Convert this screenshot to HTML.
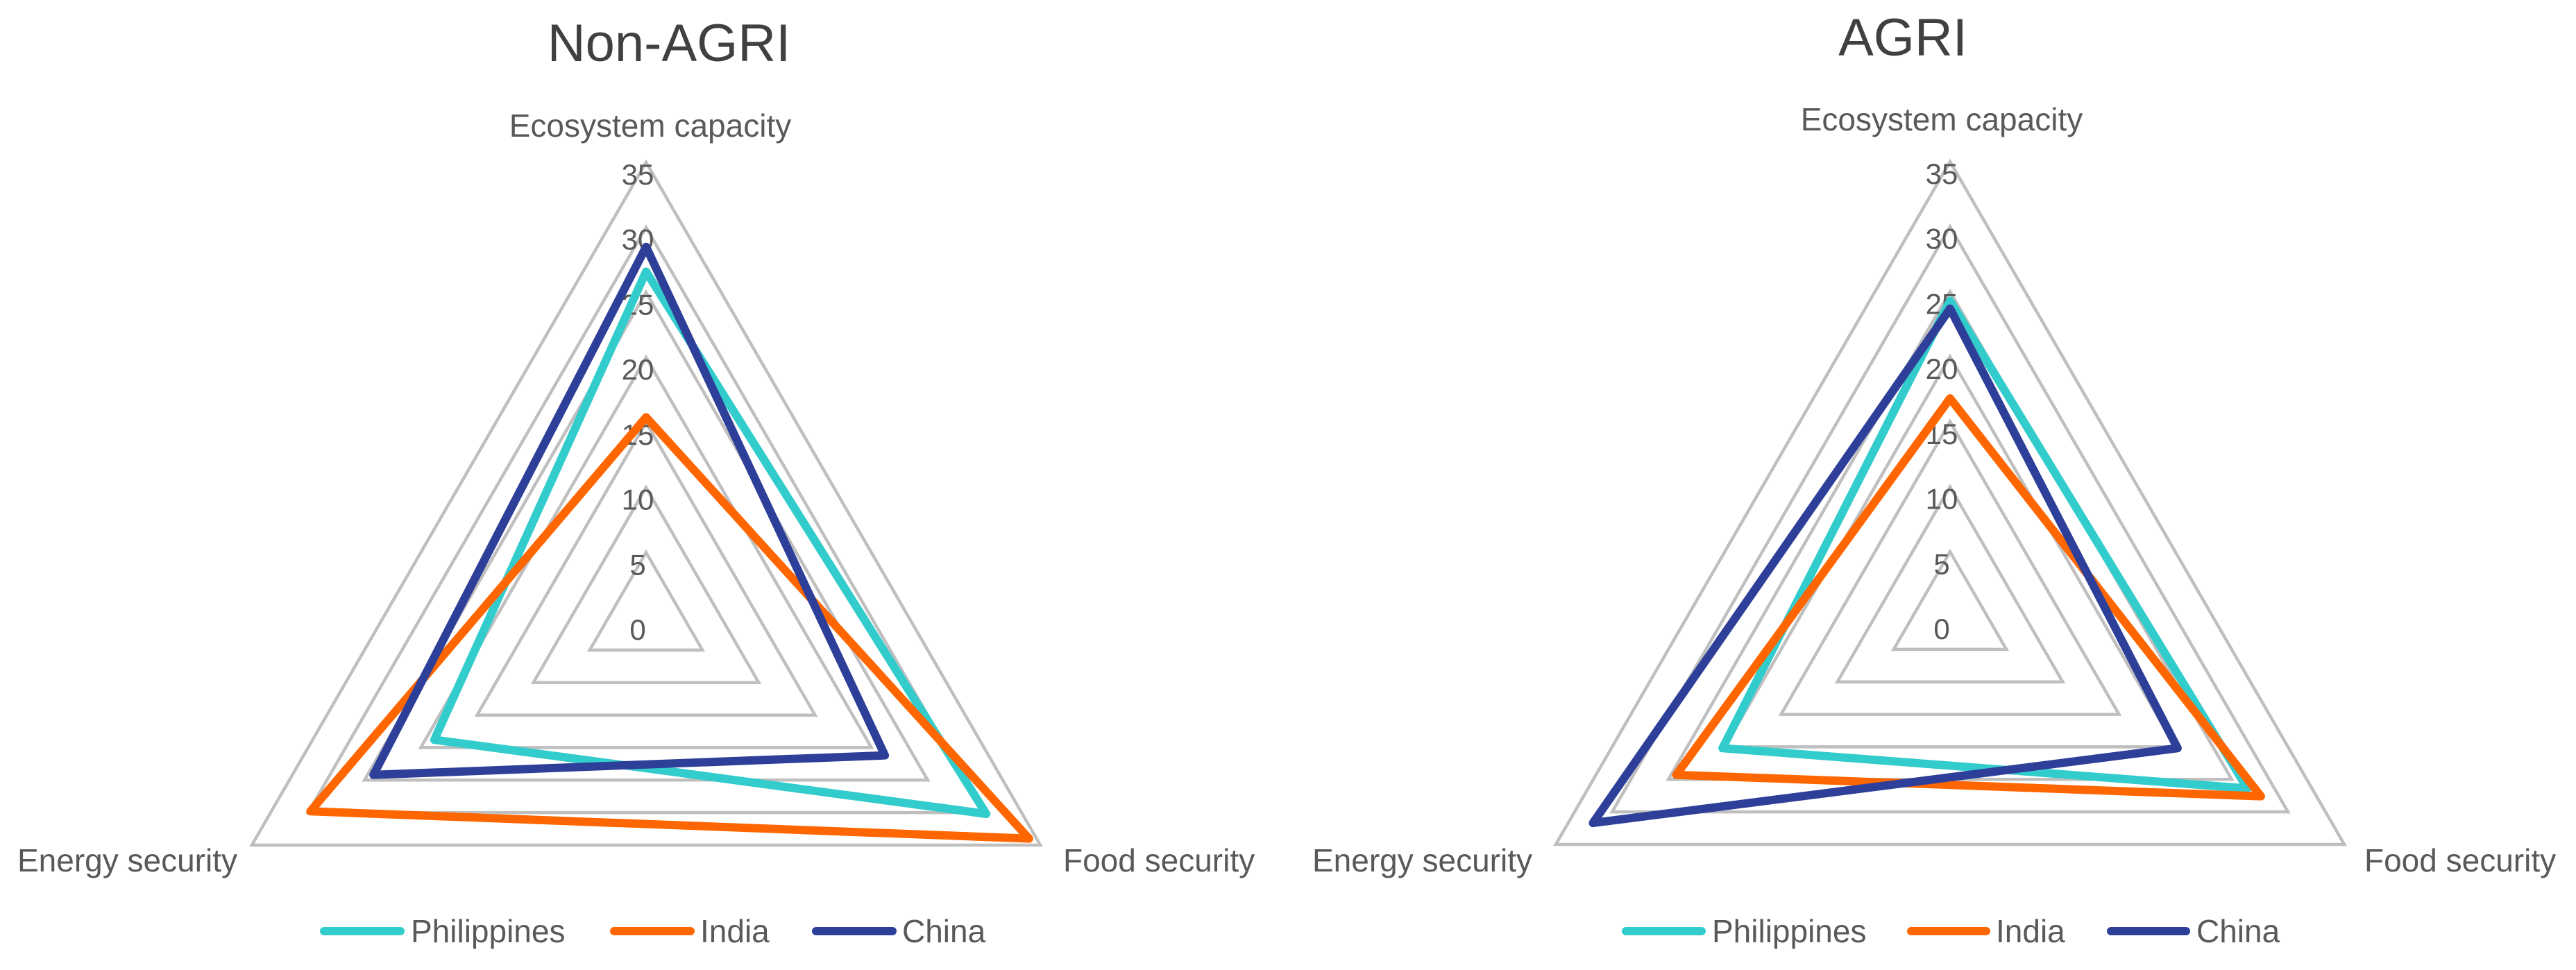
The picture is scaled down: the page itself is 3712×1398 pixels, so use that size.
<!DOCTYPE html>
<html><head><meta charset="utf-8">
<style>
html,body{margin:0;padding:0;background:#fff;}
svg{display:block;font-family:"Liberation Sans",sans-serif;}
</style></head>
<body>
<svg id="chart" width="3712" height="1398" viewBox="0 0 3712 1398" xmlns="http://www.w3.org/2000/svg"></svg>
<script>
const categories = ["Ecosystem capacity", "Food security", "Energy security"];
const seriesNames = ["Philippines", "India", "China"];
const tickValues = [0, 5, 10, 15, 20, 25, 30, 35];
const nonAgriPhilippines = [26.6, 30.2, 18.8];
const nonAgriIndia = [15.4, 34.0, 29.8];
const nonAgriChina = [28.5, 21.2, 24.2];
const agriPhilippines = [24.3, 26.4, 20.2];
const agriIndia = [16.8, 27.6, 24.3];
const agriChina = [23.7, 20.2, 31.7];
const chartTitles = ["Non-AGRI", "AGRI"];

const colors = ["#33CCCC", "#FF6600", "#2E3F99"];
const NS = "http://www.w3.org/2000/svg";
const svg = document.getElementById("chart");
function mk(tag, attrs, parent){
  const e = document.createElementNS(NS, tag);
  for (const k in attrs) e.setAttribute(k, attrs[k]);
  (parent || svg).appendChild(e);
  return e;
}
const maxV = 35, R = 656;
function pt(cx, cy, i, v){
  const a = -Math.PI/2 + i*2*Math.PI/3;
  const r = R * v / maxV;
  return [cx + r*Math.cos(a), cy + r*Math.sin(a)];
}
const panels = [
  {cx:931, cy:890, data:[nonAgriPhilippines, nonAgriIndia, nonAgriChina], titleX:964, titleY:88, catTopX:937, catTopY:197,
   foodX:1532, energyX:342, catBotY:1256, legend:[[461,583,592],[879,1001,1009],[1170,1292,1300]]},
  {cx:2810, cy:889, data:[agriPhilippines, agriIndia, agriChina], titleX:2742, titleY:80, catTopX:2798, catTopY:188,
   foodX:3407, energyX:2208, catBotY:1256, legend:[[2337,2458,2467],[2748,2868,2876],[3036,3156,3165]]}
];
panels.forEach((p, pi) => {
  const g = mk("g", {});
  
  
  const t = mk("text", {x:p.titleX, y:p.titleY, "text-anchor":"middle", "font-size":"76", fill:"#404040"}, g);
  t.textContent = chartTitles[pi];
  
  
  // grid rings
  tickValues.forEach(v => {
    if (v === 0) return;
    const pts = [0,1,2].map(i => pt(p.cx, p.cy, i, v).join(",")).join(" ");
    const ring = mk("polygon", {points:pts, fill:"none", stroke:"#BFBFBF", "stroke-width":"4.5", "stroke-linejoin":"miter"}, g);
    
    
  });
  // tick labels
  tickValues.forEach(v => {
    const [x, y] = pt(p.cx, p.cy, 0, v);
    const tl = mk("text", {x:x-12, y:y+32, "text-anchor":"middle", "font-size":"42", fill:"#595959"}, g);
    tl.textContent = v;
    
    
  });
  // series
  p.data.forEach((vals, si) => {
    const pts = vals.map((v, i) => pt(p.cx, p.cy, i, v).join(",")).join(" ");
    const s = mk("polygon", {points:pts, fill:"none", stroke:colors[si], "stroke-width":"12", "stroke-linejoin":"round"}, g);
    
    
  });
  // category labels
  const c0 = mk("text", {x:p.catTopX, y:p.catTopY, "text-anchor":"middle", "font-size":"46", fill:"#595959"}, g);
  c0.textContent = categories[0];
  
  
  const c1 = mk("text", {x:p.foodX, y:p.catBotY, "text-anchor":"start", "font-size":"46", fill:"#595959"}, g);
  c1.textContent = categories[1];
  
  
  const c2 = mk("text", {x:p.energyX, y:p.catBotY, "text-anchor":"end", "font-size":"46", fill:"#595959"}, g);
  c2.textContent = categories[2];
  
  
  // legend
  p.legend.forEach((l, si) => {
    const lg = mk("g", {}, g);
    
    
    mk("line", {x1:l[0]+6, y1:1342, x2:l[1]-6, y2:1342, stroke:colors[si], "stroke-width":"12", "stroke-linecap":"round"}, lg);
    const lt = mk("text", {x:l[2], y:1358, "font-size":"46", fill:"#595959"}, lg);
    lt.textContent = seriesNames[si];
  });
});
</script>
</body></html>
